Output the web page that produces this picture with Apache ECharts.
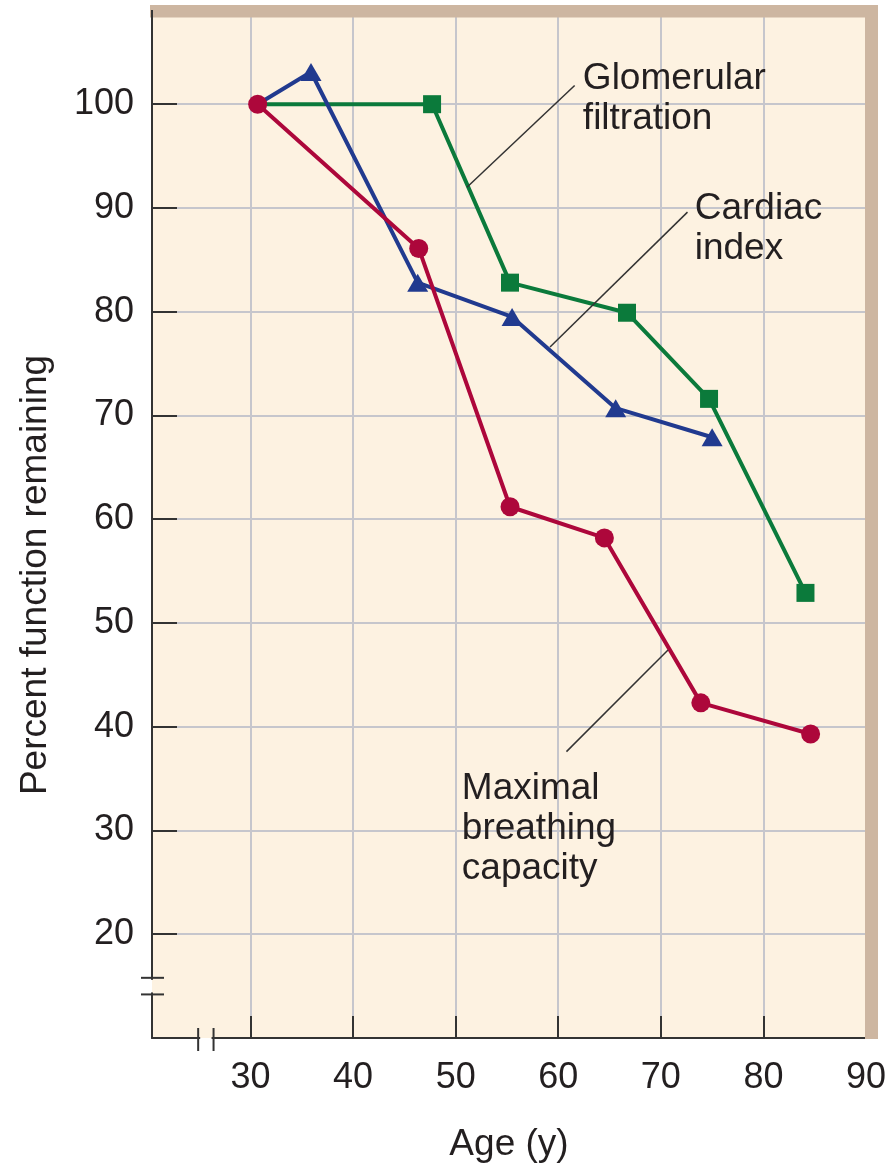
<!DOCTYPE html>
<html>
<head>
<meta charset="utf-8">
<title>Percent function remaining by age</title>
<script src="https://cdn.jsdelivr.net/npm/echarts@6.0.0/dist/echarts.min.js"></script>
<style>
  html, body { margin: 0; padding: 0; background: #fff; }
  #chart { width: 896px; height: 1166px; }
</style>
</head>
<body>
<div id="chart"></div>
<script>
// values (age in years, percent of function remaining)
const glomerularAge = [30.7, 47.7, 55.3, 66.7, 74.7, 84.1]
const glomerularPct = [100, 100, 82.8, 79.9, 71.6, 52.9]
const cardiacAge = [30.7, 35.9, 46.3, 55.5, 65.6, 75.0]
const cardiacPct = [100, 103.1, 82.8, 79.5, 70.7, 67.9]
const breathingAge = [30.7, 46.4, 55.3, 64.5, 73.9, 84.6]
const breathingPct = [100, 86.1, 61.2, 58.2, 42.3, 39.3]

const xTickLabels = [30, 40, 50, 60, 70, 80, 90]
const yTickLabels = [20, 30, 40, 50, 60, 70, 80, 90, 100]

const FONT = '"Liberation Sans", Arial, Helvetica, sans-serif'
const INK = '#231f20'
const CREAM = '#fdf2e1'
const BAND = '#cdb6a1'

const chart = echarts.init(document.getElementById('chart'))

// the first point is shared with the breathing curve, so only the red dot shows there
const toPoints = (ages, pcts, hideFirst) => ages.map((a, i) => {
  const p = { value: [a, pcts[i]] }
  if (hideFirst && i === 0) p.symbol = 'none'
  return p
})

const option = {
  animation: false,
  backgroundColor: '#fff',
  grid: {
    left: 152, right: 30, top: 16, bottom: 128,
    outerBoundsMode: 'none',
    show: true, backgroundColor: CREAM, borderWidth: 0
  },
  xAxis: {
    type: 'value',
    min: 20.4,
    max: 90,
    splitNumber: 7,
    name: 'Age (y)',
    nameLocation: 'middle',
    nameGap: 88,
    nameTextStyle: { fontFamily: FONT, fontSize: 37, color: INK },
    axisLine: { lineStyle: { color: '#333', width: 2 } },
    axisTick: { inside: true, length: 22, lineStyle: { color: '#333', width: 2 } },
    axisLabel: {
      margin: 22,
      fontFamily: FONT, fontSize: 36, color: INK,
      formatter: v => xTickLabels.includes(v) ? String(v) : ''
    },
    splitLine: { lineStyle: { color: '#c6c6cc', width: 2 } }
  },
  yAxis: {
    type: 'value',
    min: 10,
    max: 108.5,
    splitNumber: 10,
    name: 'Percent function remaining',
    nameLocation: 'middle',
    nameRotate: 90,
    nameGap: 98,
    nameTextStyle: { fontFamily: FONT, fontSize: 37, color: INK, padding: [0, 96, 0, 0] },
    axisLine: { lineStyle: { color: '#333', width: 2 } },
    axisTick: { inside: true, length: 25, lineStyle: { color: '#333', width: 2 } },
    axisLabel: {
      margin: 18,
      fontFamily: FONT, fontSize: 36, color: INK,
      formatter: v => yTickLabels.includes(v) ? String(v) : ''
    },
    splitLine: { lineStyle: { color: '#c6c6cc', width: 2 } }
  },
  series: [
    {
      name: 'Glomerular filtration',
      type: 'line',
      data: toPoints(glomerularAge, glomerularPct, true),
      symbol: 'rect',
      symbolSize: 18,
      lineStyle: { color: '#0b7a3b', width: 4 },
      itemStyle: { color: '#0b7a3b' },
      z: 2
    },
    {
      name: 'Cardiac index',
      type: 'line',
      data: toPoints(cardiacAge, cardiacPct, true),
      symbol: 'triangle',
      symbolSize: [21, 18],
      lineStyle: { color: '#213a8f', width: 4 },
      itemStyle: { color: '#213a8f' },
      z: 3
    },
    {
      name: 'Maximal breathing capacity',
      type: 'line',
      data: toPoints(breathingAge, breathingPct, false),
      symbol: 'circle',
      symbolSize: 19,
      lineStyle: { color: '#ad073b', width: 4 },
      itemStyle: { color: '#ad073b' },
      z: 4
    }
  ]
}

chart.setOption(option)

// frame, axis breaks, callout labels and leader lines
function drawDecor() {
  const px = (x, y) => chart.convertToPixel({ gridIndex: 0 }, [x, y])
  const [gx0, gy0] = px(20.4, 108.5)
  const [gx1, gy1] = px(90, 10)
  const stroke = { stroke: '#333', lineWidth: 2 }
  const els = []

  // tan frame on top and right
  els.push({ type: 'rect', z: 100, shape: { x: gx0 - 2, y: gy0 - 11, width: gx1 - gx0 + 14, height: 12.5 }, style: { fill: BAND } })
  els.push({ type: 'rect', z: 100, shape: { x: gx1 - 1, y: gy0 - 11, width: 13, height: gy1 - gy0 + 12 }, style: { fill: BAND } })
  els.push({ type: 'line', z: 101, shape: { x1: gx0, y1: gy0 - 6, x2: gx0, y2: gy0 + 2 }, style: stroke })

  // y axis break
  const yb1 = px(20.4, 15.8)[1]
  const yb2 = px(20.4, 14.2)[1]
  els.push({ type: 'rect', z: 101, shape: { x: gx0 - 6, y: yb1 + 2, width: 6, height: yb2 - yb1 - 4 }, style: { fill: '#fff' } })
  els.push({ type: 'rect', z: 101, shape: { x: gx0, y: yb1 + 2, width: 6, height: yb2 - yb1 - 4 }, style: { fill: CREAM } })
  els.push({ type: 'line', z: 102, shape: { x1: gx0 - 11, y1: yb1, x2: gx0 + 12, y2: yb1 }, style: stroke })
  els.push({ type: 'line', z: 102, shape: { x1: gx0 - 11, y1: yb2, x2: gx0 + 12, y2: yb2 }, style: stroke })

  // x axis break
  const xb1 = px(24.9, 10)[0]
  const xb2 = px(26.4, 10)[0]
  els.push({ type: 'rect', z: 101, shape: { x: xb1 + 2, y: gy1 - 6, width: xb2 - xb1 - 4, height: 6 }, style: { fill: CREAM } })
  els.push({ type: 'rect', z: 101, shape: { x: xb1 + 2, y: gy1, width: xb2 - xb1 - 4, height: 6 }, style: { fill: '#fff' } })
  els.push({ type: 'line', z: 102, shape: { x1: xb1, y1: gy1 - 10, x2: xb1, y2: gy1 + 13 }, style: stroke })
  els.push({ type: 'line', z: 102, shape: { x1: xb2, y1: gy1 - 10, x2: xb2, y2: gy1 + 13 }, style: stroke })

  // callouts: text anchor (top-left) and leader line, in data units
  const callouts = [
    { text: 'Glomerular\nfiltration', at: [62.4, 104.4], from: [61.6, 101.8], to: [51.1, 92.0] },
    { text: 'Cardiac\nindex', at: [73.3, 91.8], from: [72.6, 89.6], to: [59.2, 76.6] },
    { text: 'Maximal\nbreathing\ncapacity', at: [50.6, 35.9], from: [60.8, 37.6], to: [70.7, 47.4] }
  ]
  callouts.forEach(c => {
    const a = px(c.at[0], c.at[1])
    const f = px(c.from[0], c.from[1])
    const t = px(c.to[0], c.to[1])
    els.push({ type: 'line', z: 50, shape: { x1: f[0], y1: f[1], x2: t[0], y2: t[1] }, style: { stroke: '#333', lineWidth: 1.5 } })
    els.push({
      type: 'text', z: 50, x: a[0], y: a[1],
      style: { text: c.text, fontFamily: FONT, fontSize: 37, lineHeight: 40, fill: INK, align: 'left', verticalAlign: 'top' }
    })
  })

  chart.setOption({ graphic: els })
}

drawDecor()
</script>
</body>
</html>
